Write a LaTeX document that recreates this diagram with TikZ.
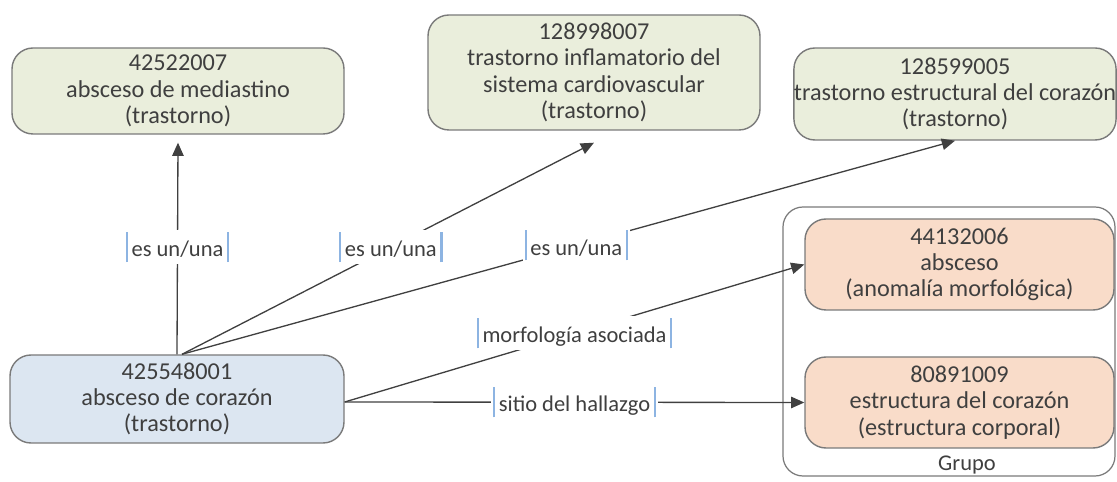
\documentclass[tikz,border=0pt]{standalone}
\usepackage{fontspec}
\setmainfont{Carlito}
\usetikzlibrary{arrows.meta}
\definecolor{txt}{HTML}{3F3F3F}
\definecolor{edge}{HTML}{404040}
\definecolor{bord}{HTML}{7A7A7A}
\definecolor{gfill}{HTML}{EAEEDC}
\definecolor{bfill}{HTML}{DCE6F1}
\definecolor{ofill}{HTML}{F9DCC9}
\definecolor{barblue}{HTML}{8DB4E2}
\newcommand{\lbar}{{\color{barblue}\rule[-0.5ex]{1.3pt}{2.8ex}}}
\newcommand{\lwrap}[1]{\lbar\hspace{2pt}#1\hspace{2pt}\lbar}
\tikzset{
  concept/.style={draw=bord, line width=0.8pt, rounded corners=0.42cm, align=center,
    text=txt, font=\fontsize{13.8}{15}\selectfont, inner sep=0pt},
  grn/.style={concept, fill=gfill},
  blu/.style={concept, fill=bfill},
  org/.style={concept, fill=ofill},
  rel/.style={draw=edge, line width=0.75pt, -{Triangle[length=7.5pt,width=6.5pt]}},
  lab/.style={fill=white, text=txt, font=\fontsize{12.8}{14}\selectfont, inner sep=1pt},
}
\begin{document}
\begin{tikzpicture}[x=0.02cm, y=-0.02cm]
\useasboundingbox (0,0) rectangle (1117,482);
% group frame
\node[draw=bord, line width=0.7pt, rounded corners=0.4cm, minimum width=332*0.02cm, minimum height=269*0.02cm, inner sep=0pt] (grp) at (949,341.5) {};
\node[text=txt, font=\fontsize{12.8}{14}\selectfont] (grplab) at (967,465) {Grupo};
% concepts
\node[grn, minimum width=332*0.02cm, minimum height=86*0.02cm] (A) at (178,91) {42522007\\absceso de mediastino\\(trastorno)};
\node[grn, minimum width=332*0.02cm, minimum height=115*0.02cm] (B) at (594,72.5) {128998007\\trastorno inflamatorio del\\sistema cardiovascular\\(trastorno)};
\node[grn, minimum width=322*0.02cm, minimum height=92*0.02cm] (C) at (955,94) {128599005\\trastorno estructural del corazón\\(trastorno)};
\node[blu, minimum width=334*0.02cm, minimum height=88*0.02cm] (D) at (177,399) {425548001\\absceso de corazón\\(trastorno)};
\node[org, minimum width=309*0.02cm, minimum height=91*0.02cm] (E) at (959.5,264.5) {44132006\\absceso\\(anomalía morfológica)};
\node[org, minimum width=309*0.02cm, minimum height=91*0.02cm] (F) at (959.5,402.5) {80891009\\estructura del corazón\\(estructura corporal)};
% end points
\coordinate (Aend) at ([yshift=-0.16cm]A.south);
\coordinate (Bend) at ([yshift=-0.24cm]B.south);
\coordinate (Dtop) at ([xshift=0.1cm]D.north);
\coordinate (Dright) at ([yshift=-0.06cm]D.east);
% connectors
\draw[rel] (D.north) -- node[lab, pos=0.507] {\lwrap{es un/una}} (Aend);
\draw[rel] (Dtop) -- node[lab, pos=0.507] {\lwrap{es un/una}} (Bend);
\draw[rel] (Dtop) -- node[lab, pos=0.51] {\lwrap{es un/una}} (C.south);
\draw[rel] (Dright) -- node[lab, pos=0.5] {\lwrap{morfología asociada}} (E.west);
\draw[rel] (Dright) -- node[lab, pos=0.5] {\lwrap{sitio del hallazgo}} (F.west);
\end{tikzpicture}
\end{document}
